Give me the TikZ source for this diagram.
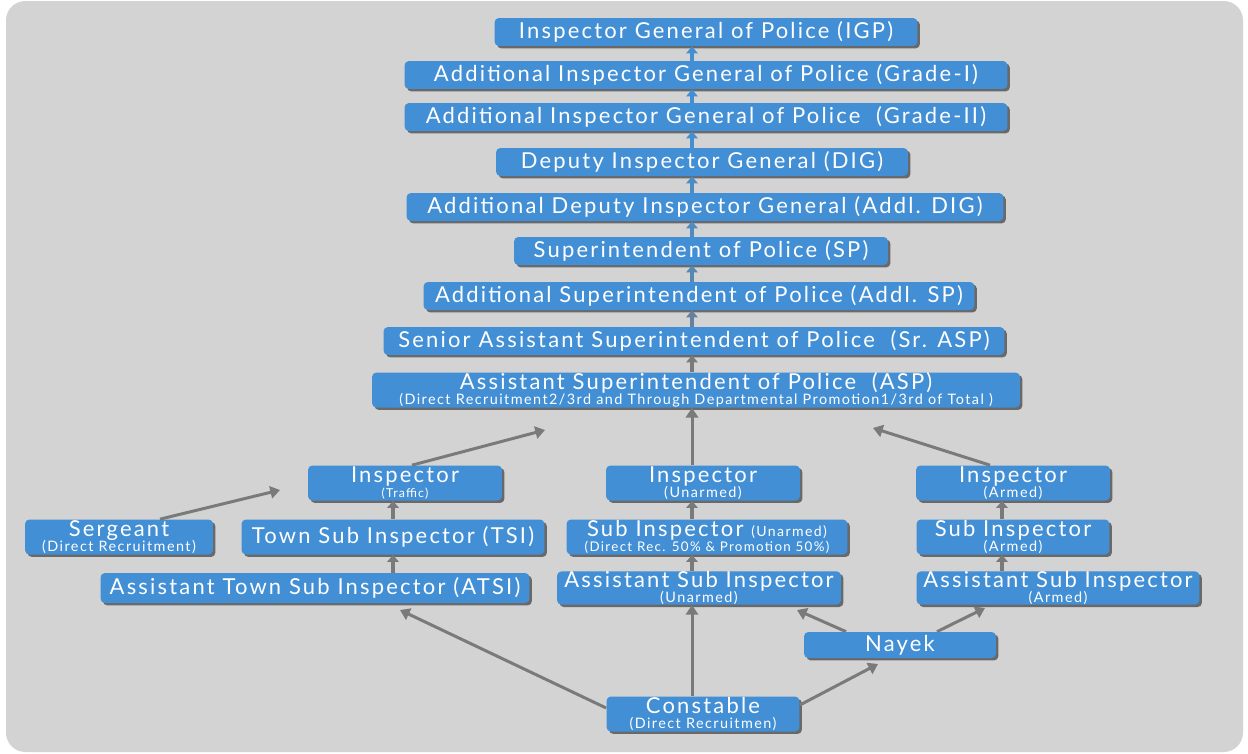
\documentclass[tikz,border=0pt]{standalone}
\usepackage{fontspec}
\setmainfont{Lato}[LetterSpace=10]
\usetikzlibrary{arrows.meta,shadows}
\definecolor{boxblue}{HTML}{428FD5}
\definecolor{linegrey}{HTML}{7A7A7A}
\definecolor{panelgrey}{HTML}{D3D3D3}
\newcommand{\smallnote}[1]{\\[-4.5pt]{\fontsize{8.2}{9}\selectfont #1}}
\tikzset{
  rank/.style={rectangle, fill=boxblue, rounded corners=2.5pt, text=white,
    inner sep=0pt, minimum height=0.56cm, align=center,
    font=\fontsize{12.5}{13}\selectfont,
    drop shadow={shadow xshift=1.4pt, shadow yshift=-1.4pt, opacity=0.5, fill=black}},
  tall/.style={minimum height=0.7cm},
  promo/.style={draw=linegrey, line width=1.7pt, -{Triangle[length=5.5pt,width=7pt]}},
  stepup/.style={line width=1.8pt, -{Triangle[length=4pt,width=6.5pt]}},
}

\begin{document}
\begin{tikzpicture}[x=0.02cm, y=-0.02cm]
  \useasboundingbox (0,0) rectangle (1248,754);
  \fill[panelgrey, rounded corners=11pt] (6,1) rectangle (1243,752);

  % upper ladder
  \node (igp) [rank, minimum width=8.46cm] at (706,32) {Inspector General of Police (IGP)};
  \node (aigA) [rank, minimum width=12.06cm] at (706,75) {Additional Inspector General of Police (Grade-I)};
  \node (aigB) [rank, minimum width=12.06cm] at (706,117) {Additional Inspector General of Police \ (Grade-II)};
  \node (dig) [rank, minimum width=8.24cm] at (702,162) {Deputy Inspector General (DIG)};
  \node (adig) [rank, minimum width=11.94cm] at (705,207) {Additional Deputy Inspector General (Addl. DIG)};
  \node (sp) [rank, minimum width=7.48cm] at (701,251) {Superintendent of Police (SP)};
  \node (addlsp) [rank, minimum width=11.02cm] at (699,296) {Additional Superintendent of Police (Addl. SP)};
  \node (srasp) [rank, minimum width=12.42cm] at (694,341) {Senior Assistant Superintendent of Police \ (Sr. ASP)};
  \node (asp) [rank, tall, minimum width=12.96cm] at (696,390) {Assistant Superintendent of Police \ (ASP)\smallnote{(Direct Recruitment2/3rd and Through Departmental Promotion1/3rd of Total )}};

  % inspectors
  \node (inspT) [rank, tall, minimum width=3.88cm] at (405,483) {Inspector\\[-4.5pt]{\fontsize{7}{8}\selectfont (Traffic)}};
  \node (inspU) [rank, tall, minimum width=3.88cm] at (703,483) {Inspector\smallnote{(Unarmed)}};
  \node (inspA) [rank, tall, minimum width=3.88cm] at (1013,483) {Inspector\smallnote{(Armed)}};

  % sub inspectors
  \node (sgt) [rank, tall, minimum width=3.76cm] at (119,537) {Sergeant\smallnote{(Direct Recruitment)}};
  \node (tsi) [rank, tall, minimum width=6.06cm] at (393,537) {Town Sub Inspector (TSI)};
  \node (siU) [rank, tall, minimum width=5.62cm] at (707,537) {Sub Inspector {\fontsize{8}{9}\selectfont (Unarmed)}\\[-4.5pt]{\fontsize{7.6}{9}\selectfont (Direct Rec. 50\% \& Promotion 50\%)}};
  \node (siA) [rank, tall, minimum width=3.86cm] at (1013,537) {Sub Inspector\smallnote{(Armed)}};

  % assistant sub inspectors
  \node (atsi) [rank, minimum width=8.58cm, minimum height=0.6cm] at (315,588) {Assistant Town Sub Inspector (ATSI)};
  \node (asiU) [rank, minimum width=5.68cm, minimum height=0.6cm] at (699,588) {Assistant Sub Inspector\smallnote{(Unarmed)}};
  \node (asiA) [rank, minimum width=5.66cm, minimum height=0.6cm] at (1058,588) {Assistant Sub Inspector\smallnote{(Armed)}};

  \node (nayek) [rank, minimum width=3.84cm, minimum height=0.52cm] at (900,645) {Nayek};
  \node (const) [rank, tall, minimum width=3.86cm] at (703,714) {Constable\smallnote{(Direct Recruitmen)}};

  % spines and free ends
  \coordinate (spine) at (692,0);
  \coordinate (armspine) at (1002,0);
  \coordinate (trafspine) at (393,0);
  \coordinate (aspL) at (545,430);
  \coordinate (aspR) at (873,428);
  \coordinate (inspTin) at (280,490);
  \coordinate (atsiIn) at (400,610);
  \coordinate (nayekIn) at (878,664);
  \coordinate (asiUin) at (797,610);
  \coordinate (asiAin) at (985,608);

  % short steps in the upper ladder, blue fading to grey
  \draw[stepup, boxblue] (aigA.north -| spine) -- (igp.south -| spine);
  \draw[stepup, boxblue] (aigB.north -| spine) -- (aigA.south -| spine);
  \draw[stepup, boxblue!95!linegrey] (dig.north -| spine) -- (aigB.south -| spine);
  \draw[stepup, boxblue!85!linegrey] (adig.north -| spine) -- (dig.south -| spine);
  \draw[stepup, boxblue!75!linegrey] (sp.north -| spine) -- (adig.south -| spine);
  \draw[stepup, boxblue!60!linegrey] (addlsp.north -| spine) -- (sp.south -| spine);
  \draw[stepup, boxblue!40!linegrey] (srasp.north -| spine) -- (addlsp.south -| spine);
  \draw[stepup, linegrey] (asp.north -| spine) -- (srasp.south -| spine);

  % into ASP
  \draw[promo] (inspU.north -| spine) -- (asp.south -| spine);
  \draw[promo] (inspT.north -| 412,0) -- (aspL);
  \draw[promo] (inspA.north -| 990,0) -- (aspR);

  % traffic branch
  \draw[promo] (sgt.north -| 160,0) -- (inspTin);
  \draw[stepup, linegrey] (tsi.north -| trafspine) -- (inspT.south -| trafspine);
  \draw[stepup, linegrey] (atsi.north -| trafspine) -- (tsi.south -| trafspine);

  % unarmed branch
  \draw[stepup, linegrey] (siU.north -| spine) -- (inspU.south -| spine);
  \draw[stepup, linegrey] (asiU.north -| spine) -- (siU.south -| spine);

  % armed branch
  \draw[stepup, linegrey] (siA.north -| armspine) -- (inspA.south -| armspine);
  \draw[stepup, linegrey] (asiA.north -| armspine) -- (siA.south -| armspine);

  % from constable and nayek
  \draw[promo] (const.west |- 0,708) -- (atsiIn);
  \draw[promo] (const.north -| spine) -- (asiU.south -| spine);
  \draw[promo] (const.east |- 0,705) -- (nayekIn);
  \draw[promo] (nayek.north -| 846,0) -- (asiUin);
  \draw[promo] (nayek.north -| 937,0) -- (asiAin);
\end{tikzpicture}
\end{document}
